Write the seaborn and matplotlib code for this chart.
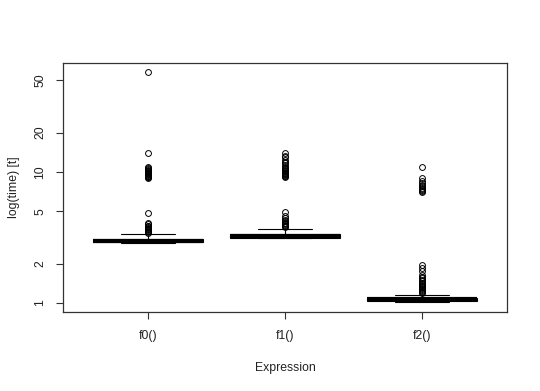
import numpy as np
import pandas as pd
import matplotlib
matplotlib.use('Agg')
import matplotlib.pyplot as plt
import seaborn as sns

# benchmark timings (core of each distribution as value/count, plus outliers)
expressions = ['f0()', 'f1()', 'f2()']

f0_core = [2.87, 2.90, 2.97, 3.00, 3.03, 3.10, 3.20, 3.36]
f0_counts = [10, 50, 30, 30, 10, 60, 10, 3]
f0_outliers = [3.45, 3.5, 3.55, 3.6, 3.65, 3.7, 3.75, 3.8, 3.85, 3.9, 4.0, 4.1, 4.9,
               9.0, 9.1, 9.2, 9.3, 9.4, 9.5, 9.6, 9.7, 9.8, 9.9, 10.0, 10.1, 10.2,
               10.3, 10.5, 10.7, 10.9, 14.0, 58.0]

f1_core = [3.13, 3.15, 3.20, 3.25, 3.30, 3.38, 3.50, 3.67]
f1_counts = [10, 50, 30, 30, 10, 60, 10, 3]
f1_outliers = [3.8, 3.85, 3.9, 3.95, 4.0, 4.05, 4.1, 4.2, 4.3, 4.45, 4.6, 4.95,
               9.2, 9.3, 9.4, 9.5, 9.6, 9.7, 9.8, 9.9, 10.0, 10.2, 10.4, 10.6, 10.8,
               11.0, 11.3, 11.7, 12.0, 12.4, 13.0, 13.3, 13.9]

f2_core = [1.02, 1.04, 1.06, 1.07, 1.08, 1.10, 1.12, 1.15]
f2_counts = [10, 50, 30, 30, 10, 60, 10, 3]
f2_outliers = [1.2, 1.22, 1.24, 1.26, 1.28, 1.3, 1.32, 1.34, 1.37, 1.4, 1.43, 1.46,
               1.5, 1.54, 1.58, 1.65, 1.75, 1.85, 1.95,
               7.0, 7.15, 7.3, 7.45, 7.6, 7.8, 8.0, 8.3, 8.6, 9.0, 10.9]

y_ticks = [1, 2, 5, 10, 20, 50]

frames = []
for name, core, counts, outl in zip(expressions,
                                    [f0_core, f1_core, f2_core],
                                    [f0_counts, f1_counts, f2_counts],
                                    [f0_outliers, f1_outliers, f2_outliers]):
    vals = np.concatenate([np.repeat(core, counts), outl])
    frames.append(pd.DataFrame({'expr': name, 'time': vals}))
df = pd.concat(frames, ignore_index=True)

sns.set_theme(style='white')
plt.rcParams['font.family'] = ['Liberation Sans', 'DejaVu Sans']
txt = '#222222'

fig = plt.figure(figsize=(5.4, 3.91), dpi=100)
ax = fig.add_axes([63/540, 79/391, 444/540, 249/391])

sns.boxplot(data=df, x='expr', y='time', order=expressions, ax=ax,
            log_scale=True, width=0.8, color='white', linecolor='black',
            linewidth=0.8, saturation=1,
            flierprops=dict(marker='o', markersize=4.2, markerfacecolor='none',
                            markeredgecolor='black', markeredgewidth=0.7),
            medianprops=dict(linewidth=3, color='black'),
            whiskerprops=dict(linestyle='--', color='black'))

ax.set_xlim(-0.62, 2.62)
ax.set_ylim(0.854, 67.9)
ax.set_yticks(y_ticks)
ax.set_yticklabels([str(t) for t in y_ticks], rotation=90, va='center')
ax.yaxis.set_minor_locator(matplotlib.ticker.NullLocator())

ax.tick_params(axis='both', length=5, width=0.8, color='#333333', labelcolor=txt,
               labelsize=8.8, direction='out', left=True, bottom=True)
ax.tick_params(axis='x', pad=8)
ax.tick_params(axis='y', pad=7)
for s in ax.spines.values():
    s.set_edgecolor('#333333')
    s.set_linewidth(0.9)

ax.set_xlabel('Expression', color=txt, fontsize=8.8, labelpad=14)
ax.set_ylabel('log(time) [t]', color=txt, fontsize=8.8, labelpad=10)

fig.savefig('out.png', dpi=100, facecolor='white')
